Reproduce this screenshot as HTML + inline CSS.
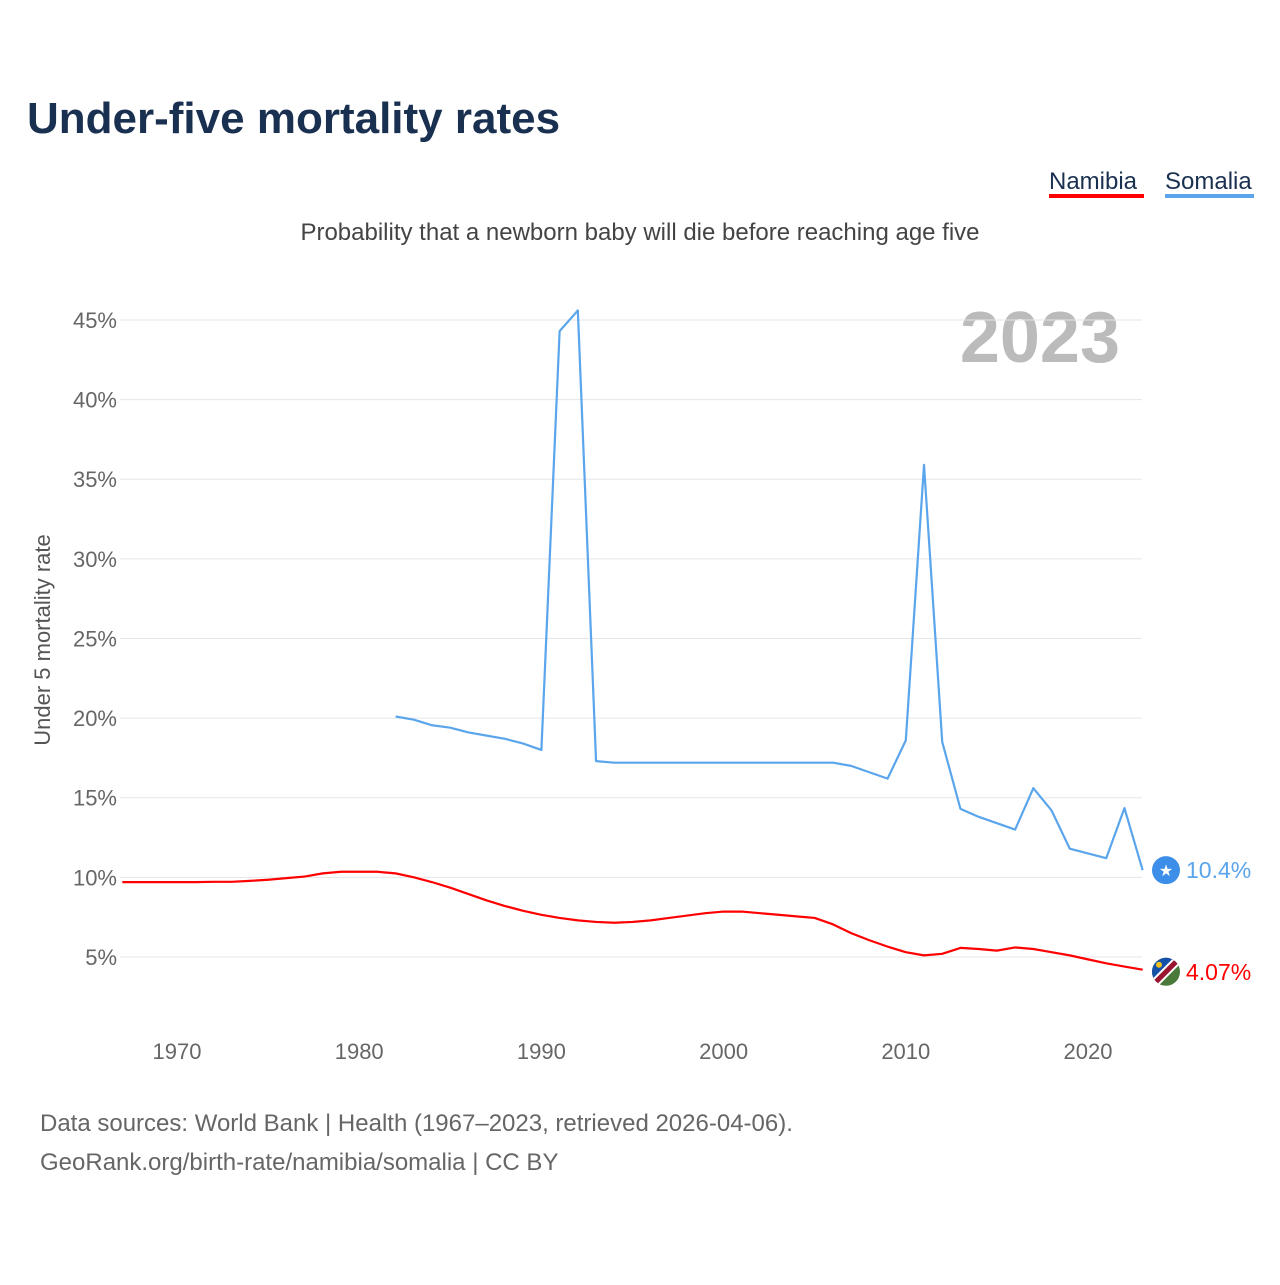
<!DOCTYPE html>
<html><head><meta charset="utf-8"><style>
body{margin:0;background:#fff;font-family:"Liberation Sans",sans-serif}
svg text{font-family:"Liberation Sans",sans-serif}
</style></head><body>
<svg id="c" width="1280" height="1280" xmlns="http://www.w3.org/2000/svg">
<defs><clipPath id="nc"><circle id="ncc" cx="1166" cy="970" r="14"/></clipPath></defs>
<text x="27" y="133" font-size="44" font-weight="bold" fill="#1a3050">Under-five mortality rates</text>
<g>
<text x="1049" y="189" font-size="24" fill="#1a3050">Namibia</text>
<rect x="1049" y="194" width="95" height="4" fill="#ff0000"/>
<text x="1165" y="189" font-size="24" fill="#1a3050">Somalia</text>
<rect x="1165" y="194" width="89" height="4" fill="#5aa5eb"/>
</g>
<text x="640" y="240" font-size="24" fill="#444" text-anchor="middle">Probability that a newborn baby will die before reaching age five</text>
<text x="1120" y="362" font-size="72" font-weight="bold" fill="#bbb" text-anchor="end">2023</text>
<text transform="translate(50,640) rotate(-90)" font-size="22" fill="#555" text-anchor="middle">Under 5 mortality rate</text>
<g id="grid"></g><g id="lines"></g>
<text x="40" y="1131" font-size="24" fill="#666">Data sources: World Bank | Health (1967–2023, retrieved 2026-04-06).</text>
<text x="40" y="1170" font-size="24" fill="#666">GeoRank.org/birth-rate/namibia/somalia | CC BY</text>
</svg>
<script>
const yTicks=[5,10,15,20,25,30,35,40,45];
const xTicks=[1970,1980,1990,2000,2010,2020];
const namYears=[];for(let y=1967;y<=2023;y++)namYears.push(y);
const namibia=[9.7,9.7,9.7,9.7,9.7,9.72,9.72,9.78,9.85,9.95,10.05,10.25,10.35,10.35,10.35,10.25,10.0,9.7,9.35,8.95,8.55,8.2,7.9,7.65,7.45,7.3,7.2,7.15,7.2,7.3,7.45,7.6,7.75,7.85,7.85,7.75,7.65,7.55,7.45,7.05,6.5,6.05,5.65,5.3,5.1,5.2,5.57,5.5,5.4,5.6,5.5,5.3,5.1,4.85,4.6,4.4,4.2,4.07];
const somYears=[];for(let y=1982;y<=2023;y++)somYears.push(y);
const somalia=[20.1,19.9,19.55,19.4,19.1,18.9,18.7,18.4,18.0,44.3,45.6,17.3,17.2,17.2,17.2,17.2,17.2,17.2,17.2,17.2,17.2,17.2,17.2,17.2,17.2,17.0,16.6,16.2,18.6,35.9,18.5,14.3,13.8,13.4,13.0,15.6,14.2,11.8,11.5,11.2,14.35,10.45];
const X=y=>177+(y-1970)*18.22;
const Y=v=>1036.6-v*15.925;
const NS='http://www.w3.org/2000/svg';
const g=document.getElementById('grid'),L=document.getElementById('lines');
function mk(tag,attrs,par){const e=document.createElementNS(NS,tag);for(const k in attrs)e.setAttribute(k,attrs[k]);par.appendChild(e);return e;}
yTicks.forEach(v=>{
 const l=mk('line',{x1:120,x2:1142,y1:Y(v),y2:Y(v),stroke:'#e6e6e6','stroke-width':1},g);
 
 
 const t=mk('text',{x:117,y:Y(v)+8,'font-size':22,fill:'#666','text-anchor':'end'},g);
 
 
 t.textContent=v+'%';
});
xTicks.forEach(v=>{
 const t=mk('text',{x:X(v),y:1059,'font-size':22,fill:'#666','text-anchor':'middle'},g);
 
 
 t.textContent=v;
});
function line(years,vals,color,name,mcolor){
 const p=mk('polyline',{points:years.map((y,i)=>X(y)+','+Y(vals[i])).join(' '),fill:'none',stroke:color,'stroke-width':2.2,'stroke-linejoin':'round'},L);
 
 
 const ly=Y(vals[vals.length-1]);
 const c=mk('circle',{cx:1166,cy:ly,r:14,fill:mcolor},L);
 
 
 const t=mk('text',{x:1186,y:ly+8,'font-size':23,fill:color},L);
 
 
 t.textContent=(name==='somalia-line'?vals[vals.length-1].toFixed(1):vals[vals.length-1].toFixed(2))+'%';
 return ly;
}
const sy=line(somYears,somalia,'#5aa5eb','somalia-line','#3d8ee8');
const ny=line(namYears,namibia,'#ff0000','namibia-line','#4a7a3a');
const star=mk('text',{x:1166,y:sy+6,'font-size':16,fill:'#fff','text-anchor':'middle'},L);


star.textContent='★';
document.getElementById('ncc').setAttribute('cy',ny);
const fg=mk('g',{'clip-path':'url(#nc)'},L);


mk('polygon',{points:`1150,${ny+16} 1150,${ny-16} 1182,${ny-16}`,fill:'#1450a8'},fg);
mk('line',{x1:1152,y1:ny+14,x2:1180,y2:ny-14,stroke:'#fff','stroke-width':9},fg);
mk('line',{x1:1152,y1:ny+14,x2:1180,y2:ny-14,stroke:'#9b1530','stroke-width':5},fg);
mk('circle',{cx:1159,cy:ny-7,r:3,fill:'#f0c020'},fg);
</script>
</body></html>
